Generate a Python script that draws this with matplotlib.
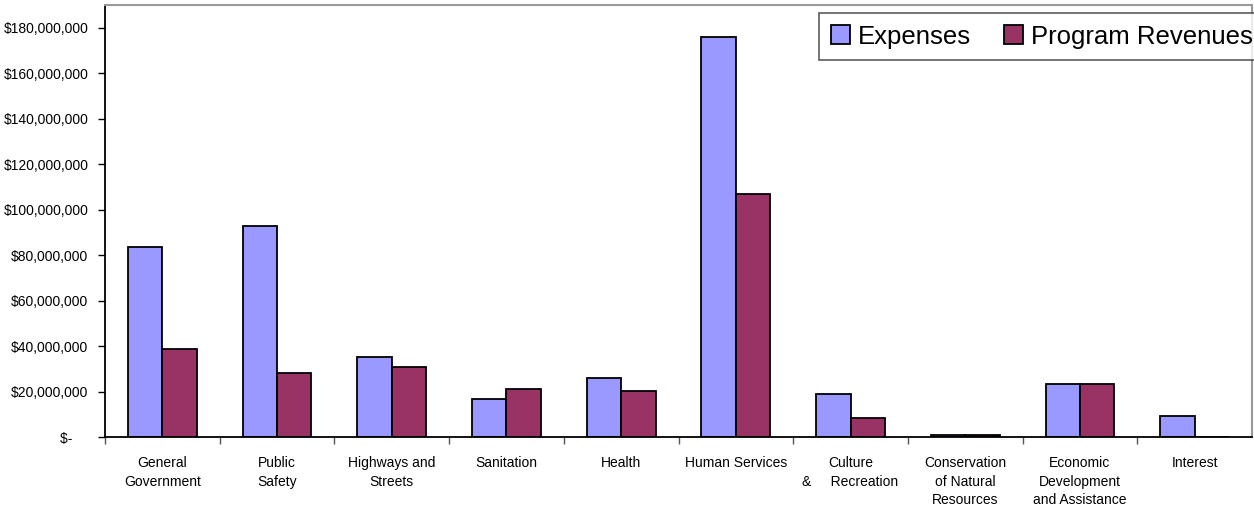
import numpy as np
import matplotlib.pyplot as plt
from matplotlib.ticker import FuncFormatter

plt.rcParams['font.family'] = ['Liberation Sans', 'DejaVu Sans']

categories = ['General\nGovernment', 'Public\nSafety', 'Highways and\nStreets',
              'Sanitation', 'Health', 'Human Services', 'Culture\n&     Recreation',
              'Conservation\nof Natural\nResources', 'Economic\nDevelopment\nand Assistance',
              'Interest']
expenses = [83.6e6, 92.9e6, 35.2e6, 16.7e6, 26.0e6, 176.0e6, 18.9e6, 0.8e6, 23.2e6, 9.2e6]
revenues = [38.7e6, 28.2e6, 30.8e6, 21.0e6, 20.2e6, 107.0e6, 8.4e6, 0.8e6, 23.2e6, 0.0]


def money(v, pos):
    if v == 0:
        return '$-    '
    return '${:,.0f}'.format(v)


fig = plt.figure(figsize=(12.54, 5.08), dpi=100)
ax = fig.add_axes([105 / 1254, 1 - 437 / 508, 1147 / 1254, 432 / 508])

x = np.arange(len(categories))
w = 0.3
ax.bar(x - w / 2, expenses, w, color='#9999FF', edgecolor='black', linewidth=1.3,
       label='Expenses')
ax.bar(x + w / 2, revenues, w, color='#993366', edgecolor='black', linewidth=1.3,
       label='Program Revenues')

ax.set_xlim(-0.5, len(categories) - 0.5)
ax.set_ylim(0, 190e6)
ax.set_yticks(np.arange(0, 180e6 + 1, 20e6))
ax.yaxis.set_major_formatter(FuncFormatter(money))
ax.tick_params(axis='y', labelsize=10, length=5, width=1, pad=7)

# category labels sit between the boundary ticks
ax.set_xticks(x - 0.5)
ax.set_xticklabels([])
ax.set_xticks(x, minor=True)
ax.set_xticklabels(categories, minor=True, fontsize=10, linespacing=1.4)
ax.tick_params(axis='x', which='major', length=5, width=1, color='#555555')
ax.tick_params(axis='x', which='minor', length=0, pad=14)

for s in ['top', 'right']:
    ax.spines[s].set_color('#999999')
    ax.spines[s].set_linewidth(1.5)
for s in ['left', 'bottom']:
    ax.spines[s].set_color('black')
    ax.spines[s].set_linewidth(1.3)

leg = fig.legend(loc='upper left', bbox_to_anchor=(819 / 1254, 1 - 13 / 508),
                 ncol=2, fontsize=18.5, frameon=True, fancybox=False,
                 handlelength=0.75, handleheight=0.75, handletextpad=0.3,
                 columnspacing=1.3, borderpad=0.45, borderaxespad=0)
leg.get_frame().set_edgecolor('#333333')
leg.get_frame().set_linewidth(1.2)

fig.savefig('out.png', dpi=100)
